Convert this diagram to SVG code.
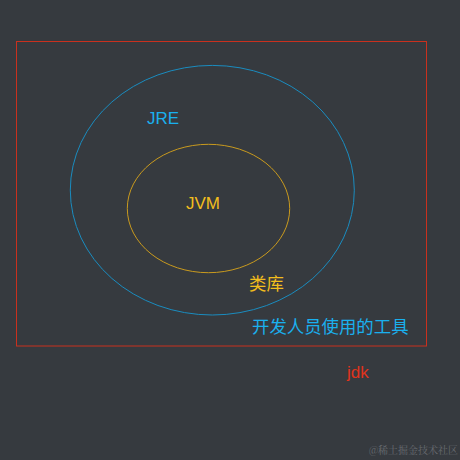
<svg xmlns="http://www.w3.org/2000/svg" width="460" height="460" viewBox="0 0 460 460">
<style>
.t{font-family:"Liberation Sans","Noto Sans CJK SC",sans-serif;font-size:17px}
.cjk{font-size:17.4px}
.blue{fill:#1ab0ee}
.yel{fill:#f2bd1d}
.red{fill:#e0331c}
</style>
<rect width="460" height="460" fill="#363a3f"/>
<g id="jdk">
<rect x="16.5" y="41.5" width="410" height="304.5" fill="none" stroke="#c9301e" stroke-width="1"/>
<text class="t red" x="347" y="378">jdk</text>
</g>
<g id="jre">
<ellipse cx="212.3" cy="190.2" rx="142" ry="124.8" fill="none" stroke="#1a8cbf" stroke-width="1"/>
<text class="t blue" x="147" y="124.3">JRE</text>
</g>
<g id="jvm">
<ellipse cx="208.5" cy="208.5" rx="81.2" ry="64.2" fill="none" stroke="#c99a1e" stroke-width="1"/>
<text class="t yel" x="186" y="208.7">JVM</text>
</g>
<g id="lib">
<text class="t cjk yel" x="249" y="290">类库</text>
</g>
<g id="tools">
<text class="t cjk blue" x="252" y="333">开发人员使用的工具</text>
</g>
<g id="connectors"></g>
<text x="369" y="453.5" font-family="'Noto Serif CJK SC','Noto Sans CJK SC',serif" font-size="10" fill="#676b70">@稀土掘金技术社区</text>
</svg>
